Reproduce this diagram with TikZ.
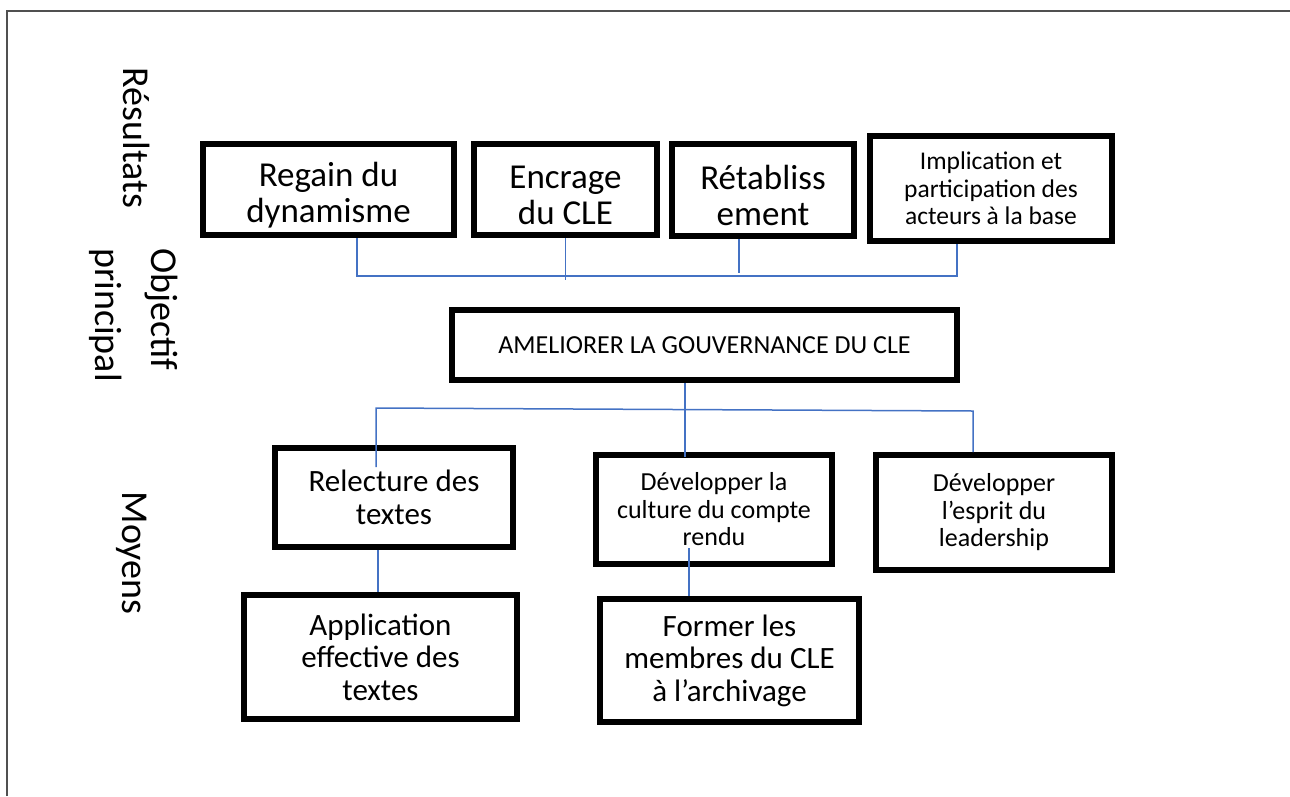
\documentclass[tikz,border=0pt]{standalone}
\usepackage{fontspec}
\setmainfont{Carlito}
\usetikzlibrary{calc, positioning}
\definecolor{linkBlue}{RGB}{68,114,196}
\definecolor{frameGray}{RGB}{80,80,80}

\begin{document}
\begin{tikzpicture}[
  x=1pt, y=-1pt,
  box/.style={draw, line width=6pt, align=center, inner sep=0pt},
  fbig/.style={font=\fontsize{35}{36}\selectfont},
  fmid/.style={font=\fontsize{31}{32.5}\selectfont},
  fsmall/.style={font=\fontsize{26}{27.5}\selectfont},
  side/.style={rotate=-90, align=left, font=\fontsize{38}{56}\selectfont},
  link/.style={linkBlue, line width=1.5pt},
]
\useasboundingbox (0,0) rectangle (1290,796);
\draw[frameGray, line width=1.5pt] (7,796) -- (7,11) -- (1290,11);

%% Row labels
\node[side] (lres) at (137,138) {Résultats};
\node[side] (lobj) at (134,315) {Objectif\\principal};
\node[side] (lmoy) at (132,553) {Moyens};

%% Results
\node[box, fbig, minimum width=251, minimum height=91] (regain) at (328.5,189.5)
  {\rule{0pt}{1em}Regain du\\dynamisme};
\node[box, fbig, minimum width=183, minimum height=91] (encrage) at (565.5,189.5)
  {\rule{0pt}{1em}Encrage\\du CLE};
\node[box, fbig, minimum width=182, minimum height=92] (retab) at (763,190)
  {\rule{0pt}{1em}Rétabliss\\ement};
\node[box, font=\fontsize{25.5}{27.5}\selectfont, minimum width=242, minimum height=105]
  (impl) at (991,188.5)
  {Implication et\\participation des\\acteurs à la base};

%% Main objective
\node[box, fsmall, minimum width=505, minimum height=70] (amel) at (704.5,345)
  {AMELIORER LA GOUVERNANCE DU CLE};

%% Means
\node[box, fmid, minimum width=238, minimum height=99] (relec) at (394,497.5)
  {Relecture des\\textes};
\node[box, fsmall, minimum width=236, minimum height=109] (cult) at (714,509.5)
  {Développer la\\culture du compte\\rendu};
\node[box, fsmall, minimum width=236, minimum height=115] (lead) at (994,512.5)
  {Développer\\l’esprit du\\leadership};
\node[box, fmid, minimum width=273, minimum height=124] (appl) at (380.5,657)
  {Application\\effective des\\textes};
\node[box, fmid, minimum width=259, minimum height=123] (former) at (729.5,660.5)
  {Former les\\membres du CLE\\à l’archivage};

%% Top bus
\draw[link] ([xshift=28.5]regain.south) -- ++(0,38) -| ([xshift=-34]impl.south);
\draw[link] (encrage.south) -- ++(0,42);
\draw[link] ([xshift=-24]retab.south) -- ++(0,34);

%% Middle bus
\coordinate (busL) at (376,408);
\coordinate (busR) at (973,411);
\draw[link] ([xshift=-19.5]amel.south) -- ++(0,74);
\draw[link] ([xshift=-18,yshift=-22]relec.north) -- (busL) -- (busR)
  -- (busR |- lead.north);

%% Lower links
\draw[link] ([xshift=-16]relec.south) -- ([xshift=-16]relec.south |- appl.north);
\draw[link] ([xshift=-25,yshift=19]cult.south) -- ([xshift=-25]cult.south |- former.north);
\end{tikzpicture}
\end{document}
